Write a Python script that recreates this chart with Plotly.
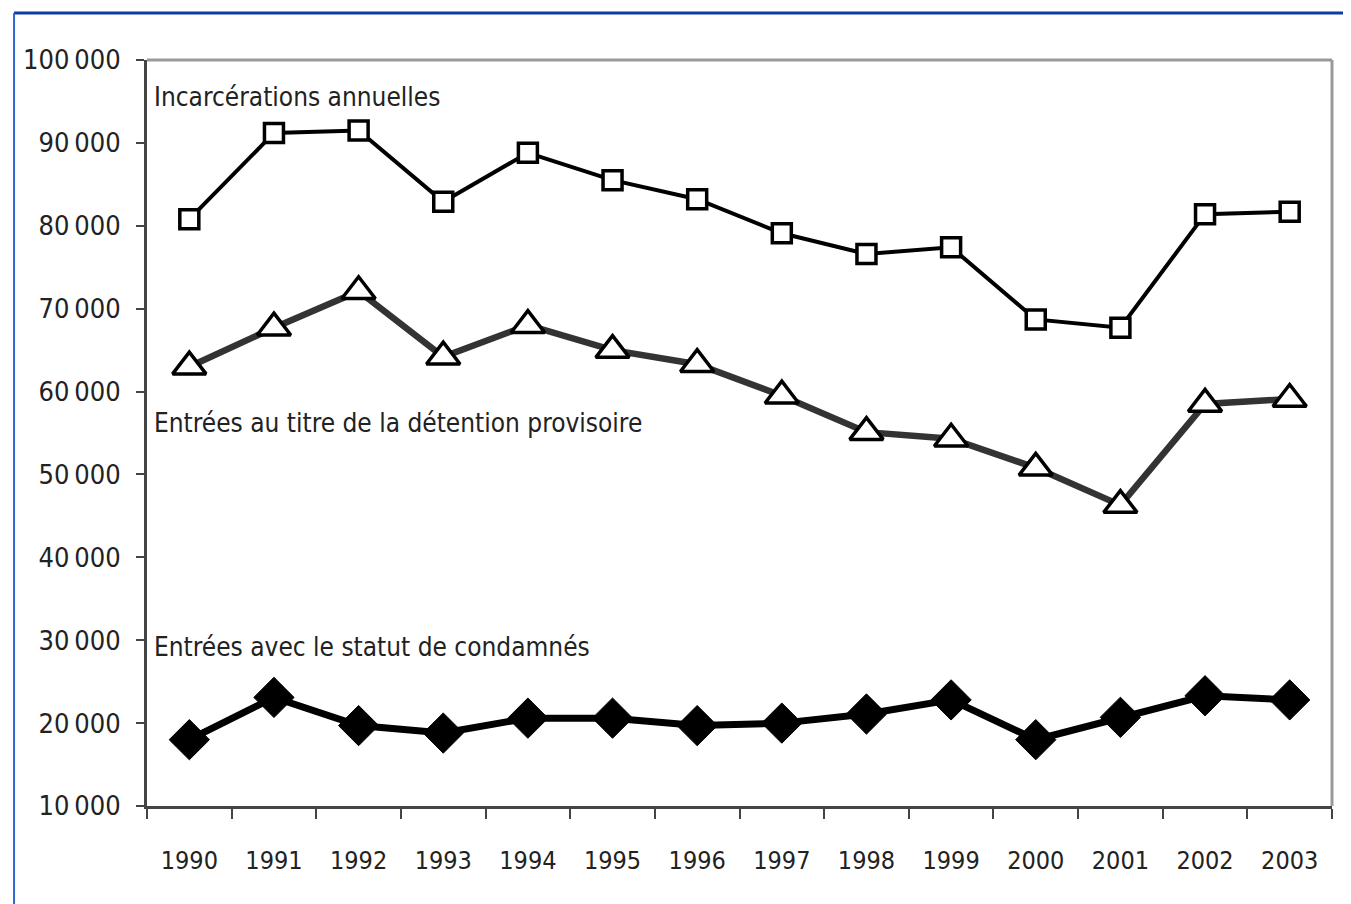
import plotly.graph_objects as go

years = ["1990", "1991", "1992", "1993", "1994", "1995", "1996",
         "1997", "1998", "1999", "2000", "2001", "2002", "2003"]
incarcerations = [80800, 91200, 91500, 82900, 88800, 85500, 83200,
                  79100, 76600, 77400, 68700, 67700, 81400, 81700]
detention_provisoire = [63000, 67700, 72100, 64200, 68000, 65000, 63300,
                        59500, 55100, 54300, 50800, 46300, 58500, 59100]
condamnes = [18000, 23100, 19700, 18800, 20600, 20600, 19700,
             20000, 21100, 22800, 18000, 20700, 23300, 22800]
y_ticks = [10000, 20000, 30000, 40000, 50000, 60000, 70000, 80000, 90000, 100000]
y_tick_text = ["10\u2009000", "20\u2009000", "30\u2009000", "40\u2009000", "50\u2009000",
               "60\u2009000", "70\u2009000", "80\u2009000", "90\u2009000", "100\u2009000"]
labels = ["Incarcérations annuelles",
          "Entrées au titre de la détention provisoire",
          "Entrées avec le statut de condamnés"]
label_y = [95500, 56200, 29200]

FONT = "DejaVu Sans Condensed, Liberation Sans Narrow, sans-serif"
xs = list(range(len(years)))

fig = go.Figure()
fig.add_trace(go.Scatter(
    x=xs, y=detention_provisoire, mode="lines+markers",
    line=dict(color="#333333", width=6.5),
    marker=dict(symbol="triangle-up", size=29, color="white",
                line=dict(color="black", width=3.5)),
    showlegend=False))
fig.add_trace(go.Scatter(
    x=xs, y=incarcerations, mode="lines+markers",
    line=dict(color="black", width=4),
    marker=dict(symbol="square", size=19, color="white",
                line=dict(color="black", width=3.5)),
    showlegend=False))
fig.add_trace(go.Scatter(
    x=xs, y=condamnes, mode="lines+markers",
    line=dict(color="black", width=7),
    marker=dict(symbol="diamond", size=31, color="black",
                line=dict(color="black", width=1)),
    showlegend=False))
# invisible trace to activate the label axis
fig.add_trace(go.Scatter(x=xs, y=condamnes, xaxis="x2", mode="markers",
                         marker=dict(opacity=0), hoverinfo="skip", showlegend=False))

for txt, yv in zip(labels, label_y):
    fig.add_annotation(x=0.004, xref="paper", y=yv, yref="y", text=txt,
                       showarrow=False, xanchor="left", yanchor="middle",
                       font=dict(family=FONT, size=26, color="#222222"))

boundaries = [i - 0.5 for i in range(len(years) + 1)]
fig.update_layout(
    width=1343, height=896,
    margin=dict(l=139, r=19, t=52, b=98),
    paper_bgcolor="white", plot_bgcolor="white",
    font=dict(family=FONT, color="#222222"),
    xaxis=dict(range=[-0.5, len(years) - 0.5], tickmode="array",
               tickvals=boundaries, ticktext=["" for _ in boundaries],
               ticks="outside", ticklen=10, tickwidth=2, tickcolor="#444444",
               showline=True, linecolor="#444444", linewidth=3,
               showgrid=False, zeroline=False, fixedrange=True),
    xaxis2=dict(range=[-0.5, len(years) - 0.5], overlaying="x", side="bottom",
                tickmode="array", tickvals=xs, ticktext=years, ticks="",
                ticklabelstandoff=37,
                tickfont=dict(family=FONT, size=25, color="#222222"),
                showline=False, showgrid=False, zeroline=False),
    yaxis=dict(range=[10000, 100000], tickmode="array", tickvals=y_ticks,
               ticktext=y_tick_text, ticks="outside", ticklen=8, tickwidth=2,
               tickcolor="#444444", showline=True, linecolor="#444444", linewidth=3,
               tickfont=dict(family=FONT, size=27, color="#222222"),
               showgrid=False, zeroline=False, ticklabelstandoff=10),
)

# top and right grey borders of the plot area
fig.add_shape(type="line", xref="paper", yref="paper", x0=0, x1=1, y0=1, y1=1,
              line=dict(color="#999999", width=3))
fig.add_shape(type="line", xref="paper", yref="paper", x0=1, x1=1, y0=0, y1=1,
              line=dict(color="#999999", width=3))
# blue frame (top and left)
fig.add_shape(type="line", xref="paper", yref="paper", x0=-0.1122, x1=1.03,
              y0=1.063, y1=1.063, line=dict(color="#0b3c9e", width=3))
fig.add_shape(type="line", xref="paper", yref="paper", x0=-0.1122, x1=-0.1122,
              y0=-0.14, y1=1.063, line=dict(color="#3366cc", width=2))

fig.write_html("out.html")
